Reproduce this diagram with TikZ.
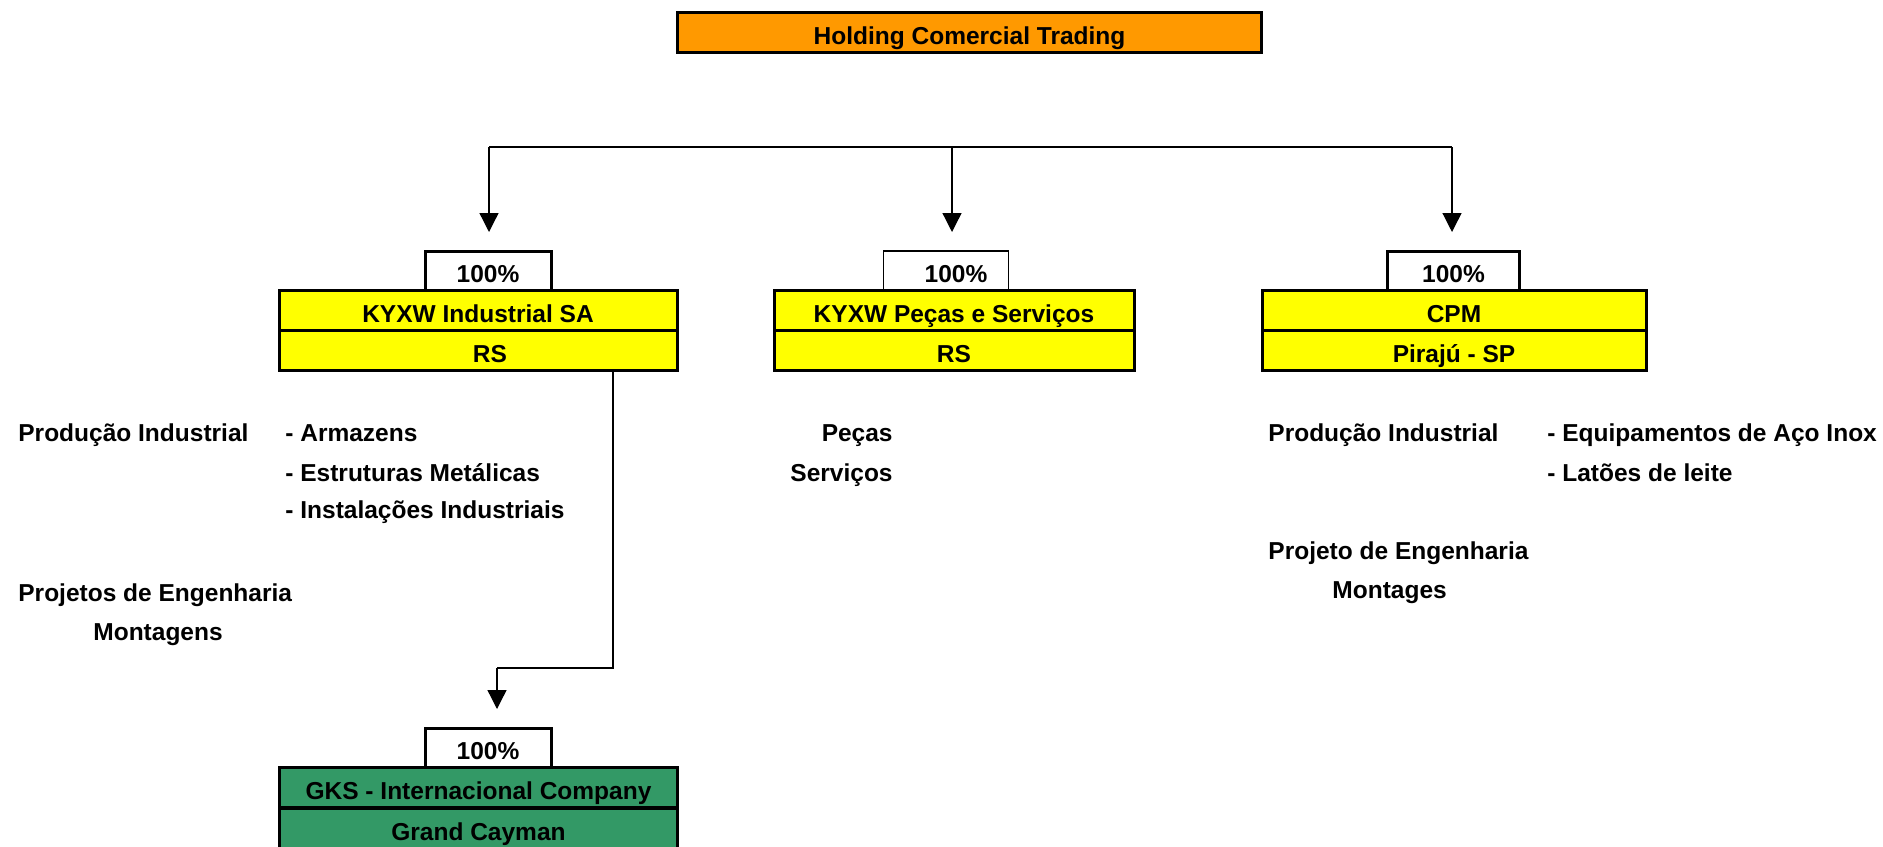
\documentclass[tikz,border=0pt]{standalone}
\usepackage{fontspec}
\setmainfont{Liberation Sans}
\usetikzlibrary{arrows.meta}
\definecolor{holdorange}{RGB}{255,153,0}
\definecolor{subyellow}{RGB}{255,255,0}
\definecolor{offgreen}{RGB}{51,153,102}
\tikzset{
  every node/.style={font=\bfseries\fontsize{12.25}{14}\selectfont, inner sep=0pt},
  box/.style={draw=black, line width=1.5pt, text height=11.5pt, text depth=0pt, align=center},
  holdbox/.style={box, fill=holdorange, minimum width=292pt, minimum height=20pt},
  pctbox/.style={box, fill=white, minimum height=19.5pt},
  rowbox/.style={box, minimum height=20pt},
  txt/.style={anchor=base west},
  conn/.style={draw=black, line width=0.65pt},
  arr/.style={conn, -{Triangle[width=9.5pt,length=9.5pt]}}
}
\begin{document}
\begin{tikzpicture}[x=0.5pt, y=-0.5pt]
\useasboundingbox (0,0) rectangle (1883,846);

% holding
\node[holdbox] (hold) at (969.5,32.5) {Holding Comercial Trading};

% first-level companies
\node[pctbox, minimum width=63pt] (pctA) at (488,270.5) {100\%};
\node[rowbox, fill=subyellow, minimum width=199pt] (nameA) at (478,310.5) {KYXW Industrial SA};
\node[rowbox, fill=subyellow, minimum width=199pt] (locA) at (478,350.5) {\hspace*{12pt}RS};

\node[pctbox, line width=0.7pt, minimum width=62.5pt] (pctB) at (946,270.5) {\hspace*{10pt}100\%};
\node[rowbox, fill=subyellow, minimum width=180pt] (nameB) at (954,310.5) {KYXW Peças e Serviços};
\node[rowbox, fill=subyellow, minimum width=180pt] (locB) at (954,350.5) {RS};

\node[pctbox, minimum width=66pt] (pctC) at (1453.5,270.5) {100\%};
\node[rowbox, fill=subyellow, minimum width=192pt] (nameC) at (1454,310.5) {CPM};
\node[rowbox, fill=subyellow, minimum width=192pt] (locC) at (1454,350.5) {Pirajú - SP};

% offshore subsidiary
\node[pctbox, minimum width=63pt] (pctG) at (488,747.5) {100\%};
\node[rowbox, fill=offgreen, minimum width=199pt] (nameG) at (478.5,787.5) {GKS - Internacional Company};
\node[rowbox, fill=offgreen, minimum width=199pt] (locG) at (478.5,828.5) {Grand Cayman};

% distribution bus and drops
\coordinate (busA) at (489,147);
\coordinate (busB) at (952,147);
\coordinate (busC) at (1452,147);
\coordinate (tipA) at (489,232);
\coordinate (tipB) at (952,232);
\coordinate (tipC) at (1452,232);
\draw[conn] (busA) -- (busC);
\draw[arr] (busA) -- (tipA);
\draw[arr] (busB) -- (tipB);
\draw[arr] (busC) -- (tipC);

% branch to the offshore company
\coordinate (brTop) at (613,370);
\coordinate (brBend) at (613,668);
\coordinate (brTurn) at (497,668);
\coordinate (tipG) at (497,709);
\draw[conn] (brTop) -- (brBend) -- (brTurn);
\draw[arr] (brTurn) -- (tipG);

% activities, KYXW Industrial
\node[txt] (actA1) at (18,441) {Produção Industrial};
\node[txt] (actA2) at (285,441) {- Armazens};
\node[txt] (actA3) at (285,481) {- Estruturas Metálicas};
\node[txt] (actA4) at (285,518) {- Instalações Industriais};
\node[txt] (actA5) at (18,601) {Projetos de Engenharia};
\node[txt] (actA6) at (93,640) {Montagens};

% activities, KYXW Peças e Serviços
\node[anchor=base east] (actB1) at (893,441) {Peças};
\node[anchor=base east] (actB2) at (893,481) {Serviços};

% activities, CPM
\node[txt] (actC1) at (1268,441) {Produção Industrial};
\node[txt] (actC2) at (1547,441) {- Equipamentos de Aço Inox};
\node[txt] (actC3) at (1547,481) {- Latões de leite};
\node[txt] (actC4) at (1268,559) {Projeto de Engenharia};
\node[txt] (actC5) at (1332,598) {Montages};
\end{tikzpicture}
\end{document}
